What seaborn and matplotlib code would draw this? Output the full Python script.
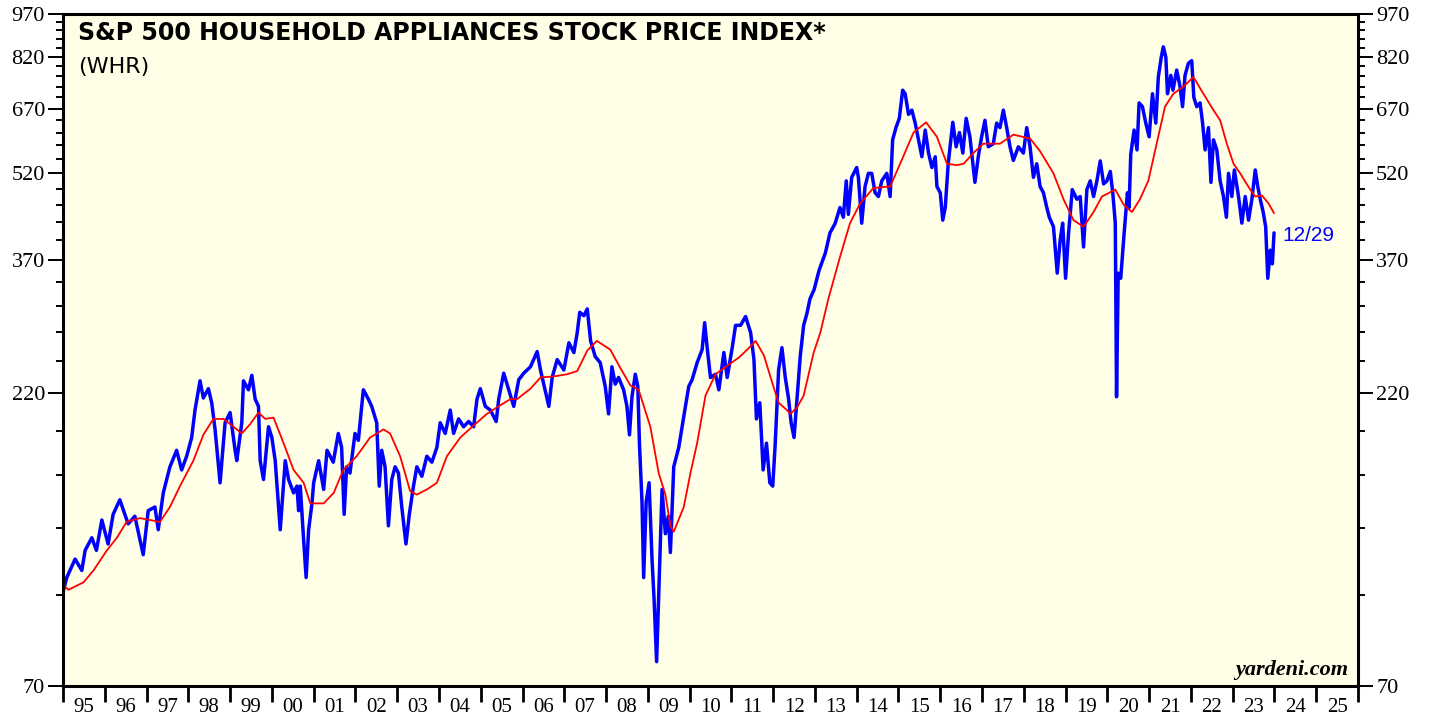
import matplotlib
matplotlib.use("Agg")
import matplotlib.pyplot as plt
from matplotlib.ticker import FixedLocator, NullFormatter
import seaborn as sns
import pandas as pd

# WHR weekly-ish price
price_year = [
    1995.00, 1995.09, 1995.29, 1995.45, 1995.53, 1995.69, 1995.80, 1995.93, 1996.08, 1996.20,
    1996.36, 1996.56, 1996.72, 1996.92, 1997.04, 1997.20, 1997.28, 1997.40, 1997.56, 1997.72,
    1997.84, 1997.96, 1998.08, 1998.16, 1998.28, 1998.36, 1998.48, 1998.56, 1998.64, 1998.76,
    1998.88, 1999.00, 1999.12, 1999.16, 1999.28, 1999.32, 1999.44, 1999.52, 1999.60, 1999.68,
    1999.72, 1999.80, 1999.92, 2000.00, 2000.08, 2000.20, 2000.32, 2000.40, 2000.52, 2000.60,
    2000.64, 2000.68, 2000.76, 2000.82, 2000.88, 2000.96, 2001.00, 2001.12, 2001.24, 2001.32,
    2001.47, 2001.59, 2001.67, 2001.73, 2001.79, 2001.87, 2001.99, 2002.07, 2002.19, 2002.31,
    2002.39, 2002.51, 2002.57, 2002.63, 2002.71, 2002.79, 2002.87, 2002.95, 2003.03, 2003.11,
    2003.21, 2003.29, 2003.39, 2003.47, 2003.59, 2003.71, 2003.83, 2003.95, 2004.03, 2004.15,
    2004.27, 2004.35, 2004.47, 2004.59, 2004.71, 2004.83, 2004.91, 2004.99, 2005.11, 2005.23,
    2005.37, 2005.43, 2005.55, 2005.67, 2005.79, 2005.91, 2006.03, 2006.19, 2006.35, 2006.43,
    2006.55, 2006.63, 2006.71, 2006.83, 2006.99, 2007.11, 2007.23, 2007.31, 2007.37, 2007.47,
    2007.55, 2007.63, 2007.74, 2007.86, 2007.98, 2008.06, 2008.14, 2008.22, 2008.30, 2008.42,
    2008.50, 2008.56, 2008.62, 2008.70, 2008.76, 2008.80, 2008.86, 2008.90, 2008.96, 2009.03,
    2009.10, 2009.15, 2009.21, 2009.27, 2009.34, 2009.42, 2009.49, 2009.54, 2009.62, 2009.74,
    2009.82, 2009.90, 2009.98, 2010.06, 2010.18, 2010.30, 2010.36, 2010.42, 2010.50, 2010.62,
    2010.70, 2010.82, 2010.90, 2011.02, 2011.10, 2011.22, 2011.34, 2011.46, 2011.54, 2011.60,
    2011.68, 2011.76, 2011.84, 2011.92, 2011.99, 2012.05, 2012.13, 2012.21, 2012.29, 2012.37,
    2012.43, 2012.50, 2012.57, 2012.65, 2012.73, 2012.81, 2012.88, 2012.98, 2013.10, 2013.25,
    2013.36, 2013.48, 2013.60, 2013.68, 2013.75, 2013.80, 2013.88, 2014.00, 2014.04, 2014.12,
    2014.20, 2014.28, 2014.36, 2014.44, 2014.52, 2014.60, 2014.72, 2014.80, 2014.86, 2014.94,
    2015.02, 2015.10, 2015.16, 2015.24, 2015.32, 2015.40, 2015.48, 2015.56, 2015.64, 2015.72,
    2015.80, 2015.88, 2015.92, 2016.00, 2016.06, 2016.12, 2016.19, 2016.30, 2016.38, 2016.46,
    2016.54, 2016.62, 2016.71, 2016.79, 2016.83, 2016.91, 2016.99, 2017.07, 2017.15, 2017.27,
    2017.35, 2017.43, 2017.51, 2017.59, 2017.67, 2017.75, 2017.87, 2017.99, 2018.07, 2018.15,
    2018.23, 2018.31, 2018.39, 2018.47, 2018.55, 2018.61, 2018.71, 2018.80, 2018.87, 2018.93,
    2019.00, 2019.07, 2019.16, 2019.27, 2019.35, 2019.43, 2019.51, 2019.59, 2019.67, 2019.75,
    2019.83, 2019.91, 2019.99, 2020.07, 2020.13, 2020.19, 2020.22, 2020.26, 2020.32, 2020.40,
    2020.48, 2020.52, 2020.56, 2020.64, 2020.71, 2020.76, 2020.84, 2020.92, 2021.00, 2021.08,
    2021.16, 2021.22, 2021.29, 2021.34, 2021.40, 2021.44, 2021.52, 2021.57, 2021.66, 2021.74,
    2021.80, 2021.86, 2021.94, 2022.02, 2022.07, 2022.14, 2022.22, 2022.28, 2022.34, 2022.42,
    2022.48, 2022.54, 2022.62, 2022.70, 2022.78, 2022.85, 2022.90, 2022.98, 2023.04, 2023.14,
    2023.22, 2023.30, 2023.38, 2023.46, 2023.54, 2023.60, 2023.66, 2023.73, 2023.79, 2023.84,
    2023.90, 2023.95, 2023.99,
]
price = [
    101, 107, 115, 110, 119, 125, 119, 134, 122, 137,
    145, 132, 136, 117, 139, 141, 129, 149, 165, 176,
    163, 172, 185, 206, 231, 216, 224, 212, 191, 155,
    196, 204, 176, 169, 196, 231, 223, 236, 215, 209,
    169, 157, 193, 185, 169, 129, 169, 157, 149, 153,
    139, 153, 124, 107, 129, 143, 155, 169, 151, 176,
    168, 188, 178, 137, 165, 161, 188, 183, 223, 215,
    209, 196, 153, 176, 165, 131, 157, 165, 161, 141,
    122, 137, 153, 165, 159, 172, 168, 178, 196, 188,
    206, 188, 199, 193, 197, 193, 215, 224, 209, 206,
    197, 215, 238, 223, 209, 232, 238, 244, 259, 241,
    221, 209, 234, 251, 241, 268, 258, 279, 302, 298,
    306, 270, 254, 248, 226, 203, 244, 228, 234, 223,
    209, 187, 217, 237, 226, 180, 144, 107, 144, 155,
    115, 98, 77, 105, 151, 127, 136, 118, 165, 178,
    193, 209, 226, 232, 248, 261, 290, 263, 234, 237,
    223, 258, 234, 263, 287, 287, 297, 279, 251, 199,
    212, 163, 181, 155, 153, 181, 241, 263, 234, 215,
    196, 185, 215, 255, 287, 301, 318, 330, 356, 381,
    412, 427, 455, 438, 505, 443, 512, 532, 512, 428,
    494, 520, 520, 482, 475, 505, 520, 475, 593, 622,
    645, 720, 710, 655, 666, 633, 593, 555, 616, 563,
    532, 555, 494, 482, 433, 455, 540, 635, 577, 610,
    563, 645, 600, 532, 502, 555, 600, 640, 577, 584,
    633, 622, 666, 622, 577, 547, 577, 563, 622, 577,
    512, 540, 494, 482, 455, 438, 422, 352, 400, 428,
    345, 410, 488, 470, 475, 390, 488, 505, 475, 505,
    546, 499, 505, 524, 482, 428, 217, 352, 345, 410,
    482, 455, 560, 616, 570, 685, 675, 633, 600, 710,
    633, 758, 819, 853, 819, 710, 763, 720, 779, 730,
    675, 763, 800, 808, 700, 675, 685, 633, 570, 622,
    502, 593, 570, 505, 475, 438, 520, 475, 527, 475,
    428, 475, 433, 470, 527, 494, 470, 447, 422, 345,
    385, 365, 412,
]

# 52-week moving average
ma_year = [
    1995.00, 1995.13, 1995.49, 1995.73, 1996.05, 1996.29, 1996.52, 1996.84, 1997.32, 1997.56,
    1997.80, 1998.12, 1998.36, 1998.60, 1998.84, 1999.08, 1999.28, 1999.48, 1999.68, 1999.84,
    2000.04, 2000.28, 2000.52, 2000.76, 2000.92, 2001.24, 2001.48, 2001.71, 2002.03, 2002.35,
    2002.67, 2002.83, 2003.07, 2003.31, 2003.47, 2003.71, 2003.95, 2004.19, 2004.51, 2004.83,
    2005.15, 2005.47, 2005.71, 2005.87, 2006.19, 2006.43, 2006.75, 2007.07, 2007.31, 2007.55,
    2007.78, 2008.10, 2008.34, 2008.58, 2008.78, 2009.06, 2009.26, 2009.42, 2009.54, 2009.62,
    2009.86, 2010.02, 2010.18, 2010.38, 2010.62, 2010.90, 2011.18, 2011.38, 2011.58, 2011.78,
    2011.98, 2012.13, 2012.33, 2012.41, 2012.57, 2012.73, 2012.97, 2013.13, 2013.32, 2013.60,
    2013.84, 2014.08, 2014.40, 2014.80, 2015.04, 2015.36, 2015.66, 2015.92, 2016.16, 2016.40,
    2016.56, 2016.79, 2017.03, 2017.43, 2017.75, 2018.15, 2018.39, 2018.71, 2018.95, 2019.19,
    2019.43, 2019.67, 2019.87, 2020.19, 2020.39, 2020.59, 2020.78, 2020.98, 2021.18, 2021.38,
    2021.58, 2021.82, 2022.06, 2022.30, 2022.54, 2022.70, 2022.86, 2023.02, 2023.18, 2023.42,
    2023.54, 2023.70, 2023.86, 2023.99,
]
ma = [
    104, 102, 105, 110, 119, 125, 133, 135, 133, 141,
    153, 169, 187, 199, 199, 193, 188, 195, 204, 199,
    200, 181, 163, 155, 143, 143, 149, 163, 172, 185,
    191, 188, 172, 150, 148, 151, 155, 172, 185, 194,
    203, 210, 215, 215, 224, 234, 235, 237, 240, 260,
    270, 261, 243, 227, 223, 193, 161, 148, 131, 128,
    141, 161, 181, 218, 237, 245, 253, 261, 270, 255,
    229, 212, 206, 203, 208, 218, 258, 279, 318, 375,
    428, 462, 491, 494, 540, 610, 635, 600, 540, 537,
    540, 563, 584, 584, 605, 596, 567, 520, 470, 433,
    422, 447, 475, 488, 460, 447, 470, 505, 584, 675,
    710, 730, 758, 710, 666, 640, 584, 540, 520, 488,
    475, 477, 462, 445,
]

y_major = [70, 220, 370, 520, 670, 820, 970]
y_minor = [v for v in range(100, 970, 30) if v not in y_major]
years = list(range(1995, 2027))
year_labels = [f"{y % 100:02d}" for y in range(1995, 2026)]

sns.set_style("ticks")
plt.rcParams["font.family"] = ["Liberation Serif", "DejaVu Serif"]
plt.rcParams["text.color"] = "black"
plt.rcParams["xtick.color"] = "black"
plt.rcParams["ytick.color"] = "black"

W, H = 1429, 717
fig = plt.figure(figsize=(W / 100, H / 100), dpi=100)
ax = fig.add_axes([63 / W, 1 - 686 / H, (1358 - 63) / W, (686 - 14) / H])
ax.set_facecolor("#FFFEE6")

df_p = pd.DataFrame({"year": price_year, "value": price})
df_m = pd.DataFrame({"year": ma_year, "value": ma})
sns.lineplot(data=df_p, x="year", y="value", ax=ax, color="#0000FF", linewidth=2.5)
sns.lineplot(data=df_m, x="year", y="value", ax=ax, color="#FF0000", linewidth=1.3)

ax.set_yscale("log")
ax.set_ylim(70, 970)
ax.set_xlim(1995, 2026)
ax.set_xlabel("")
ax.set_ylabel("")

ax.yaxis.set_major_locator(FixedLocator(y_major))
ax.yaxis.set_minor_locator(FixedLocator(y_minor))
ax.set_yticklabels([str(v) for v in y_major])
ax.yaxis.set_minor_formatter(NullFormatter())

ax.xaxis.set_major_locator(FixedLocator(years))
ax.xaxis.set_minor_locator(FixedLocator([y + 0.5 for y in range(1995, 2026)]))
ax.set_xticklabels([""] * len(years))
ax.set_xticklabels(year_labels, minor=True)

ax.tick_params(axis="y", which="major", left=True, right=True, labelleft=True, labelright=True,
               direction="out", length=11, width=1.4, labelsize=16, pad=2, colors="black")
ax.tick_params(axis="y", which="minor", left=True, right=True, direction="out", length=5, width=1.4,
               colors="black")
ax.tick_params(axis="x", which="major", bottom=True, direction="out", length=11.5, width=2,
               colors="black")
ax.tick_params(axis="x", which="minor", bottom=True, length=0, labelsize=15, pad=9, colors="black")

for s in ax.spines.values():
    s.set_visible(True)
    s.set_linewidth(2.2)
    s.set_color("black")

sans = ["DejaVu Sans", "Liberation Sans"]
ax.text(15 / 1295, 1 - (40 - 14) / 672, "S&P 500 HOUSEHOLD APPLIANCES STOCK PRICE INDEX*",
        transform=ax.transAxes, ha="left", va="baseline", fontsize=17, fontweight="bold",
        family=sans, color="black")
ax.text(15 / 1295, 1 - (73 - 14) / 672, "(WHR)", transform=ax.transAxes, ha="left",
        va="baseline", fontsize=16, family=sans, color="black")

ax.annotate("12/29", xy=(price_year[-1], price[-1]), xytext=(6, -2), textcoords="offset points",
            ha="left", va="center", color="#0000FF", fontsize=15,
            family=["Liberation Sans", "DejaVu Sans"])

ax.text(1 - 10 / 1295, 16 / 672, "yardeni.com", transform=ax.transAxes, ha="right", va="center",
        fontsize=16, fontweight="bold", style="italic", color="black")

fig.savefig("out.png", dpi=100)
